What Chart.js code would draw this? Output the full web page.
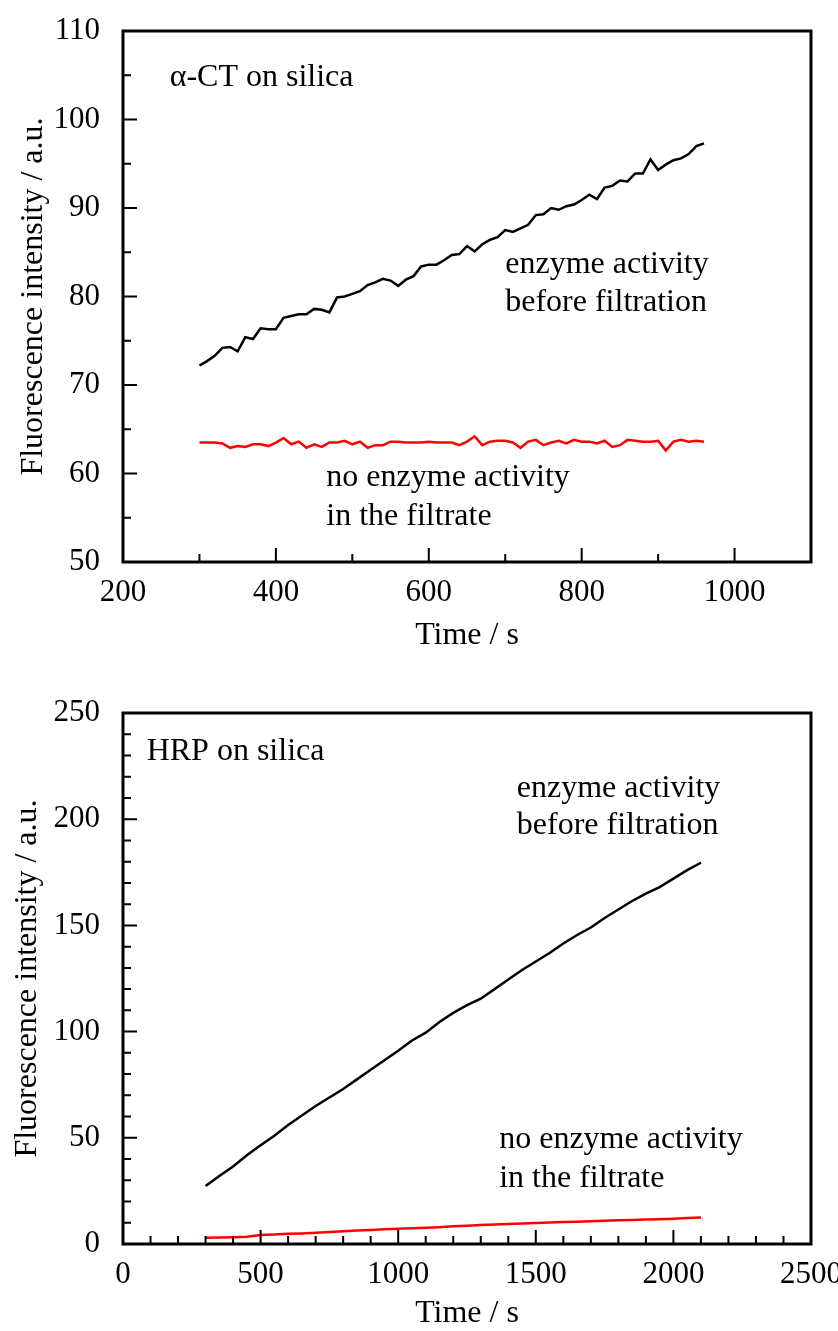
<!DOCTYPE html>
<html>
<head>
<meta charset="utf-8">
<script src="https://cdn.jsdelivr.net/npm/chart.js@4"></script>
<style>
    body { margin: 0; background: #fff; }
    canvas { display: block; }
</style>
</head>
<body>
<canvas id="chart-act" width="838" height="665"></canvas>
<canvas id="chart-hrp" width="838" height="666"></canvas>
<script>
                        /*
                            ========================
                                DATOS (α-CT / HRP)
                            ========================
                                                      */
let tiempoArriba = [300, 310, 320, 330, 340, 350, 360, 370, 380, 390, 400, 410, 420, 430, 440, 450, 460, 470, 480, 490,
    500, 510, 520, 530, 540, 550, 560, 570, 580, 590, 600, 610, 620, 630, 640, 650, 660, 670, 680, 690,
    700, 710, 720, 730, 740, 750, 760, 770, 780, 790, 800, 810, 820, 830, 840, 850, 860, 870, 880, 890,
    900, 910, 920, 930, 940, 950, 960];

let negroArriba = [72.2, 72.7, 73.3, 74.2, 74.3, 73.8, 75.4, 75.2, 76.4, 76.3, 76.3, 77.6, 77.8, 78.0, 78.0, 78.6, 78.5, 78.2, 79.9, 80.0,
    80.3, 80.6, 81.3, 81.6, 82.0, 81.8, 81.2, 81.9, 82.3, 83.4, 83.6, 83.6, 84.1, 84.7, 84.8, 85.7, 85.1, 85.9, 86.4, 86.7,
    87.5, 87.3, 87.7, 88.1, 89.2, 89.3, 90.0, 89.8, 90.2, 90.4, 90.9, 91.5, 91.0, 92.3, 92.5, 93.1, 93.0, 93.9, 93.9, 95.5,
    94.3, 94.9, 95.4, 95.6, 96.1, 97.0, 97.3];

let rojoArriba = [63.5, 63.5, 63.5, 63.4, 62.9, 63.1, 63.0, 63.3, 63.3, 63.1, 63.5, 64.0, 63.3, 63.6, 62.9, 63.3, 63.0, 63.5, 63.5, 63.7,
    63.3, 63.6, 62.9, 63.2, 63.2, 63.6, 63.6, 63.5, 63.5, 63.5, 63.6, 63.5, 63.5, 63.5, 63.2, 63.6, 64.2, 63.2, 63.6, 63.7,
    63.7, 63.5, 62.9, 63.6, 63.8, 63.2, 63.5, 63.7, 63.4, 63.8, 63.6, 63.6, 63.4, 63.7, 63.0, 63.2, 63.8, 63.7, 63.6, 63.6,
    63.7, 62.6, 63.6, 63.8, 63.6, 63.7, 63.6];

let tiempoAbajo = [300, 350, 400, 450, 500, 550, 600, 650, 700, 750, 800, 850, 900, 950, 1000, 1050, 1100, 1150, 1200, 1250,
    1300, 1350, 1400, 1450, 1500, 1550, 1600, 1650, 1700, 1750, 1800, 1850, 1900, 1950, 2000, 2050, 2100];

let negroAbajo = [27.3, 32.0, 36.5, 41.8, 46.5, 51.0, 56.0, 60.5, 65.0, 69.0, 73.0, 77.5, 82.0, 86.5, 91.0, 95.8, 99.5, 104.5, 108.8, 112.5,
    115.5, 120.0, 124.5, 129.0, 133.0, 137.0, 141.5, 145.5, 149.0, 153.5, 157.5, 161.5, 165.0, 168.0, 172.0, 176.0, 179.5];

let rojoAbajo = [3.0, 3.1, 3.2, 3.4, 4.2, 4.5, 4.8, 5.0, 5.3, 5.6, 6.0, 6.3, 6.6, 6.9, 7.2, 7.4, 7.6, 7.9, 8.3, 8.6,
    8.9, 9.2, 9.4, 9.7, 9.9, 10.1, 10.3, 10.5, 10.7, 11.0, 11.2, 11.3, 11.5, 11.7, 11.9, 12.2, 12.5];

/*Marcas de los ejes*/
let xMarcasArriba = [200, 400, 600, 800, 1000];
let xMenoresArriba = [300, 500, 700, 900];
let yMarcasArriba = [50, 60, 70, 80, 90, 100, 110];
let yMenoresArriba = [55, 65, 75, 85, 95, 105];

let xMarcasAbajo = [0, 500, 1000, 1500, 2000, 2500];
let xMenoresAbajo = [100, 200, 300, 400, 600, 700, 800, 900, 1100, 1200, 1300, 1400, 1600, 1700, 1800, 1900, 2100, 2200, 2300, 2400];
let yMarcasAbajo = [0, 50, 100, 150, 200, 250];
let yMenoresAbajo = [10, 20, 30, 40, 60, 70, 80, 90, 110, 120, 130, 140, 160, 170, 180, 190, 210, 220, 230, 240];

const fuente = '"Liberation Serif", "Times New Roman", serif';

function puntos(xs, ys) {
    return xs.map((x, i) => ({ x: x, y: ys[i] }));
}

                        /*
                            ========================
                              MARCO, TICKS Y NOTAS
                            ========================
                                                      */
let pluginMarco = {
    id: 'marco',
    afterDraw(chart, args, opts) {
        let ctx = chart.ctx;
        let area = chart.chartArea;
        let sx = chart.scales.x;
        let sy = chart.scales.y;
        ctx.save();
        ctx.strokeStyle = '#000';
        ctx.lineWidth = 2;
        ctx.beginPath();
        opts.xMayores.forEach(v => { let p = sx.getPixelForValue(v); ctx.moveTo(p, area.bottom); ctx.lineTo(p, area.bottom - 14); });
        opts.xMenores.forEach(v => { let p = sx.getPixelForValue(v); ctx.moveTo(p, area.bottom); ctx.lineTo(p, area.bottom - 8); });
        opts.yMayores.forEach(v => { let p = sy.getPixelForValue(v); ctx.moveTo(area.left, p); ctx.lineTo(area.left + 14, p); });
        opts.yMenores.forEach(v => { let p = sy.getPixelForValue(v); ctx.moveTo(area.left, p); ctx.lineTo(area.left + 8, p); });
        ctx.stroke();

        ctx.lineWidth = 3;
        ctx.strokeRect(area.left, area.top, area.right - area.left, area.bottom - area.top);

        ctx.fillStyle = '#000';
        ctx.font = '32px ' + fuente;
        ctx.textAlign = 'left';
        ctx.textBaseline = 'alphabetic';
        opts.notas.forEach(n => {
            ctx.fillText(n.texto, sx.getPixelForValue(n.x), sy.getPixelForValue(n.y));
        });
        ctx.restore();
    }
};

function opcionesGrafica(cfg) {
    return {
        responsive: false,
        animation: false,
        layout: { padding: { top: cfg.arriba, right: 27, left: 0, bottom: 0 } },
        scales: {
            x: {
                type: 'linear',
                min: cfg.xMin,
                max: cfg.xMax,
                afterFit: (s) => { s.height = cfg.altoX; s.paddingLeft = 0; s.paddingRight = 0; },
                afterBuildTicks: (s) => { s.ticks = cfg.xMayores.map(v => ({ value: v })); },
                grid: { display: false },
                border: { display: false },
                ticks: {
                    color: '#000', padding: 4, maxRotation: 0,
                    font: { family: fuente, size: 31 },
                    callback: (v) => String(v)
                },
                title: {
                    display: true,
                    text: 'Time / s',
                    color: '#000',
                    font: { family: fuente, size: 32 },
                    padding: { top: 0, bottom: cfg.padTituloX }
                }
            },
            y: {
                type: 'linear',
                min: cfg.yMin,
                max: cfg.yMax,
                afterFit: (s) => { s.width = 123; s.paddingTop = 0; s.paddingBottom = 0; },
                afterBuildTicks: (s) => { s.ticks = cfg.yMayores.map(v => ({ value: v })); },
                grid: { display: false },
                border: { display: false },
                ticks: {
                    color: '#000', padding: 15,
                    font: { family: fuente, size: 31 },
                    callback: (v) => String(v)
                },
                title: {
                    display: true,
                    text: 'Fluorescence intensity / a.u.',
                    color: '#000',
                    font: { family: fuente, size: 32 },
                    padding: { top: cfg.padTituloY, bottom: 0 }
                }
            }
        },
        plugins: {
            legend: false,
            tooltip: { enabled: false },
            marco: {
                xMayores: cfg.xMayores,
                xMenores: cfg.xMenores,
                yMayores: cfg.yMayores,
                yMenores: cfg.yMenores,
                notas: cfg.notas
            }
        }
    };
}

function serie(datos, color) {
    return {
        data: datos,
        borderColor: color,
        borderWidth: 2.5,
        pointRadius: 0,
        fill: false,
        tension: 0
    };
}

                        /*
                            ========================
                                GRÁFICA α-CT
                            ========================
                                                      */
let graficaAct = new Chart(document.getElementById('chart-act'), {
    type: 'line',
    data: {
        datasets: [
            serie(puntos(tiempoArriba, negroArriba), '#000000'),
            serie(puntos(tiempoArriba, rojoArriba), '#ff0000')
        ]
    },
    options: opcionesGrafica({
        arriba: 31, altoX: 103, padTituloX: 10, padTituloY: 14,
        xMin: 200, xMax: 1100, yMin: 50, yMax: 110,
        xMayores: xMarcasArriba, xMenores: xMenoresArriba,
        yMayores: yMarcasArriba, yMenores: yMenoresArriba,
        notas: [
            { texto: 'α-CT on silica', x: 261, y: 103.8 },
            { texto: 'enzyme activity', x: 700, y: 82.7 },
            { texto: 'before filtration', x: 700, y: 78.4 },
            { texto: 'no enzyme activity', x: 466, y: 58.6 },
            { texto: 'in the filtrate', x: 466, y: 54.2 }
        ]
    }),
    plugins: [pluginMarco]
});

                        /*
                            ========================
                                 GRÁFICA HRP
                            ========================
                                                      */
let graficaHrp = new Chart(document.getElementById('chart-hrp'), {
    type: 'line',
    data: {
        datasets: [
            serie(puntos(tiempoAbajo, negroAbajo), '#000000'),
            serie(puntos(tiempoAbajo, rojoAbajo), '#ff0000')
        ]
    },
    options: opcionesGrafica({
        arriba: 48, altoX: 87, padTituloX: -2, padTituloY: 8,
        xMin: 0, xMax: 2500, yMin: 0, yMax: 250,
        xMayores: xMarcasAbajo, xMenores: xMenoresAbajo,
        yMayores: yMarcasAbajo, yMenores: yMenoresAbajo,
        notas: [
            { texto: 'HRP on silica', x: 86, y: 228 },
            { texto: 'enzyme activity', x: 1431, y: 210.6 },
            { texto: 'before filtration', x: 1431, y: 192.8 },
            { texto: 'no enzyme activity', x: 1367, y: 45.4 },
            { texto: 'in the filtrate', x: 1367, y: 26.8 }
        ]
    }),
    plugins: [pluginMarco]
});
</script>
</body>
</html>
